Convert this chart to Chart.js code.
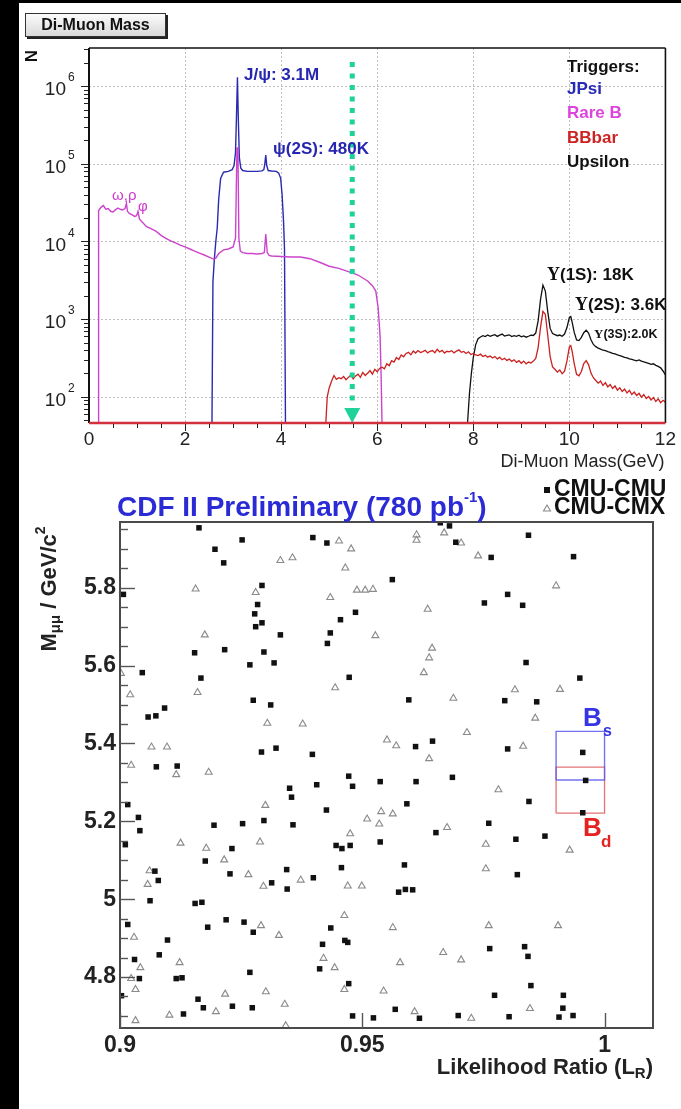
<!DOCTYPE html>
<html>
<head>
<meta charset="utf-8">
<title>Di-Muon Mass / CDF II Bs→μμ search</title>
<script src="https://cdn.jsdelivr.net/npm/chart.js@4.4.1/dist/chart.umd.min.js"></script>
<style>
  html, body { margin: 0; padding: 0; background: #000; width: 681px; height: 1109px; overflow: hidden; }
  #cTop { position: absolute; left: 19px; top: 3px; background: #fff; }
  #cBot { position: absolute; left: 19px; top: 476px; background: #fff; }
  #box {
    position: absolute; left: 25px; top: 13px; width: 139px; height: 22px;
    border: 1px solid #333; box-shadow: 2px 2px 0 #222;
    background: linear-gradient(#fbfbfb, #d9d9d9);
    font: bold 16px 'Liberation Sans', Arial, Helvetica, sans-serif;
    color: #111; text-align: center; line-height: 22px;
  }
</style>
</head>
<body>
<canvas id="cTop" width="662" height="473"></canvas>
<canvas id="cBot" width="662" height="633"></canvas>
<div id="box">Di-Muon Mass</div>
<script>
const FONT = "'Liberation Sans', Arial, Helvetica, sans-serif";

// ---------- Di-muon mass spectra (GeV, events per bin) ----------
const massTicks = [0, 2, 4, 6, 8, 10, 12];
const countTicks = [1e2, 1e3, 1e4, 1e5, 1e6];

// JPsi trigger
const jpsiMass = [0, 2.56, 2.58, 2.61, 2.64, 2.67, 2.70, 2.74, 2.80, 2.90,
  2.98, 3.02, 3.05, 3.07, 3.09, 3.11, 3.13, 3.16, 3.20, 3.30,
  3.40, 3.50, 3.60, 3.64, 3.66, 3.68, 3.70, 3.73, 3.80, 3.90,
  3.95, 3.99, 4.02, 4.05, 4.07, 4.09, 12];
const jpsiCount = [46, 46, 3000, 6000, 10000, 15000, 35000, 65000, 78000, 80000,
  84000, 95000, 140000, 400000, 1300000, 350000, 120000, 88000, 82000, 80000,
  80000, 80000, 81000, 84000, 100000, 130000, 95000, 82000, 81000, 80000,
  76000, 65000, 40000, 18000, 8000, 46, 46];

// Rare B trigger
const rareMass = [0, 0.19, 0.2, 0.25, 0.3, 0.35, 0.4, 0.45, 0.5, 0.55,
  0.6, 0.65, 0.7, 0.75, 0.78, 0.8, 0.84, 0.9, 0.95, 0.99,
  1.02, 1.05, 1.1, 1.2, 1.3, 1.4, 1.5, 1.6, 1.7, 1.8,
  1.9, 2.0, 2.1, 2.2, 2.3, 2.4, 2.5, 2.6, 2.64, 2.7,
  2.8, 2.9, 3.0, 3.05, 3.08, 3.1, 3.12, 3.15, 3.2, 3.3,
  3.4, 3.5, 3.6, 3.65, 3.68, 3.71, 3.75, 3.8, 3.9, 4.0,
  4.2, 4.4, 4.6, 4.8, 5.0, 5.2, 5.4, 5.6, 5.8, 5.9,
  5.97, 6.02, 6.06, 6.08, 6.1, 12];
const rareCount = [46, 46, 25000, 27500, 29000, 26000, 26500, 24500, 24000, 25500,
  27000, 26000, 25500, 26500, 31000, 24500, 23000, 22000, 21000, 21500,
  24500, 19500, 18000, 15500, 14500, 13500, 12000, 11000, 10200, 9600,
  9000, 8500, 8000, 7500, 7100, 6700, 6300, 5900, 6100, 7000,
  7800, 8000, 8500, 11000, 160000, 160000, 11000, 7500, 7200, 7000,
  7000, 6900, 7000, 7200, 12500, 7200, 6600, 6500, 6450, 6400,
  6300, 6300, 6000, 5400, 4800, 4500, 4100, 3700, 3100, 2700,
  2300, 1400, 600, 200, 46, 46];

// BBbar trigger
const bbMass = [0, 4.93, 4.96,
  5.0, 5.05, 5.1, 5.15, 5.2, 5.25, 5.3, 5.35, 5.4, 5.45, 5.5, 5.55, 5.6, 5.65, 5.7, 5.75, 5.8, 5.85, 5.9, 5.95,
  6.0, 6.05, 6.1, 6.15, 6.2, 6.25, 6.3, 6.35, 6.4, 6.45, 6.5, 6.55, 6.6, 6.65, 6.7, 6.75, 6.8, 6.85, 6.9, 6.95,
  7.0, 7.05, 7.1, 7.15, 7.2, 7.25, 7.3, 7.35, 7.4, 7.45, 7.5, 7.55, 7.6, 7.65, 7.7, 7.75, 7.8, 7.85, 7.9, 7.95,
  8.0, 8.05, 8.1, 8.15, 8.2, 8.25, 8.3, 8.35, 8.4, 8.45, 8.5, 8.55, 8.6, 8.65, 8.7, 8.75, 8.8, 8.85, 8.9, 8.95,
  9.0, 9.05, 9.1, 9.15, 9.2, 9.25, 9.3, 9.35, 9.4, 9.45, 9.5, 9.55, 9.6, 9.65, 9.7, 9.75, 9.8, 9.85, 9.9, 9.95,
  10.0, 10.03, 10.06,
  10.1, 10.15, 10.2, 10.25, 10.3, 10.35, 10.4, 10.45, 10.5, 10.55, 10.6, 10.65, 10.7, 10.75, 10.8, 10.85, 10.9, 10.95,
  11.0, 11.05, 11.1, 11.15, 11.2, 11.25, 11.3, 11.35, 11.4, 11.45, 11.5, 11.55, 11.6, 11.65, 11.7, 11.75, 11.8, 11.85,
  11.9, 11.95, 12.0];
const bbCount = [46, 46, 100,
  130, 160, 188, 168, 176, 171, 183, 166, 178, 191, 170, 186, 196, 178, 206, 188, 201, 218, 196, 226,
  210, 232, 241, 230, 266, 252, 292, 280, 320, 303, 346, 328, 362, 374, 348, 388, 366, 394, 372, 382,
  398, 368, 386, 394, 370, 410, 378, 396, 366, 386, 380, 392, 368, 388, 402, 374, 384, 362, 380, 350,
  362, 346, 340, 354, 330, 342, 324, 336, 316, 330, 308, 322, 300, 314, 294, 306, 286, 300, 278, 292,
  270, 288, 266, 280, 272, 288, 312, 430, 790, 1260, 1150, 620, 330, 242, 226, 208, 222, 198, 214, 290,
  440, 455, 380,
  270, 195, 186, 212, 268, 292, 258, 202, 176, 162, 150, 160, 140, 152, 134, 144, 128, 138,
  122, 131, 117, 126, 112, 121, 107, 115, 104, 111, 99, 107, 95, 101, 91, 98, 87, 94,
  84, 90, 85];

// Upsilon trigger
const upsMass = [7.88, 7.92, 7.96,
  8.0, 8.05, 8.1, 8.15, 8.2, 8.25, 8.3, 8.35, 8.4, 8.45, 8.5, 8.55, 8.6, 8.65, 8.7, 8.75, 8.8, 8.85, 8.9, 8.95,
  9.0, 9.05, 9.1, 9.15, 9.2, 9.25, 9.3, 9.35, 9.4, 9.45, 9.5, 9.55, 9.6, 9.65, 9.7, 9.75, 9.8, 9.85, 9.9, 9.95,
  10.0, 10.03, 10.06,
  10.1, 10.15, 10.2, 10.25, 10.3, 10.35, 10.4, 10.45, 10.5, 10.55, 10.6, 10.65, 10.7, 10.75, 10.8, 10.85, 10.9, 10.95,
  11.0, 11.05, 11.1, 11.15, 11.2, 11.25, 11.3, 11.35, 11.4, 11.45, 11.5, 11.55, 11.6, 11.65, 11.7, 11.75, 11.8, 11.85,
  11.9, 11.95, 12.0];
const upsCount = [46, 110, 200,
  320, 470, 560, 590, 612, 596, 626, 602, 618, 632, 600, 622, 642, 606, 618, 628, 596, 612, 602, 622,
  592, 608, 586, 602, 622, 616, 662, 950, 1800, 2750, 2300, 1250, 760, 652, 632, 612, 624, 602, 642, 780,
  1050, 1080, 900,
  680, 540, 530, 582, 668, 720, 662, 542, 472, 442, 424, 412, 398, 392, 382, 374, 362, 356,
  346, 340, 332, 322, 318, 308, 304, 296, 290, 298, 288, 282, 276, 270, 262, 266, 254, 246,
  236, 215, 192];

// B mass marker on the spectrum
const arrowMass = 5.48;
const arrowTopCount = 2.05e6;

// ---------- CDF II candidates: likelihood ratio vs di-muon mass ----------
const lrTicks = [0.9, 0.95, 1];
const mTicks = [4.8, 5.0, 5.2, 5.4, 5.6, 5.8];

const cmuLR = [
  0.9163, 0.9196, 0.9214, 0.9252, 0.9398, 0.9427, 0.9293, 0.9284, 0.9278, 0.9280,
  0.9293, 0.9331, 0.9455, 0.9486, 0.9434, 0.9428, 0.9007, 0.9154, 0.9216, 0.9297,
  0.9268, 0.9318, 0.9046, 0.9167, 0.9473, 0.9275, 0.9311, 0.9058, 0.9074, 0.9092,
  0.9292, 0.9322, 0.9397, 0.9075, 0.9118, 0.9472,
  0.9661, 0.9680, 0.9693, 0.9766, 0.9843, 0.9936, 0.9562, 0.9800, 0.9752, 0.9831,
  0.9838, 0.9949, 0.9596, 0.9794, 0.9860, 0.9645, 0.9610, 0.9800, 0.9955, 0.9537,
  0.9611, 0.9686, 0.9961,
  0.9350, 0.9406, 0.9480, 0.9354, 0.9016, 0.9426, 0.9038, 0.9041, 0.9194, 0.9253,
  0.9297, 0.9357, 0.9011, 0.9231, 0.9176, 0.9446, 0.9458, 0.9475, 0.9457, 0.9072,
  0.9079, 0.9227, 0.9313, 0.9344, 0.9345, 0.9399, 0.9062, 0.9155, 0.9169, 0.9016,
  0.9219, 0.9256, 0.9181, 0.9275, 0.9435, 0.9098, 0.9418, 0.9464, 0.9470, 0.9081,
  0.9030, 0.9412, 0.9268, 0.9040, 0.9116, 0.9128, 0.9472, 0.9003, 0.9161, 0.9172,
  0.9232, 0.9273, 0.9131, 0.9480, 0.9523,
  0.9844, 0.9592, 0.9761, 0.9652, 0.9537, 0.9817, 0.9877, 0.9955, 0.9587, 0.9820,
  0.9575, 0.9589, 0.9604, 0.9763, 0.9835, 0.9842, 0.9848, 0.9773, 0.9915, 0.9914,
  0.9906, 0.9935, 0.9568, 0.9618, 0.9698, 0.9803];
const cmuM = [
  5.954, 5.899, 5.864, 5.923, 5.929, 5.915, 5.806, 5.757, 5.733, 5.700,
  5.710, 5.679, 5.718, 5.737, 5.684, 5.657, 5.783, 5.633, 5.641, 5.635,
  5.602, 5.607, 5.582, 5.568, 5.570, 5.511, 5.499, 5.468, 5.471, 5.491,
  5.378, 5.388, 5.372, 5.340, 5.342, 5.316,
  5.967, 5.959, 5.917, 5.878, 5.935, 5.880, 5.821, 5.783, 5.761, 5.755,
  5.608, 5.568, 5.512, 5.510, 5.507, 5.406, 5.392, 5.386, 5.377, 5.302,
  5.302, 5.313, 5.305,
  5.285, 5.294, 5.290, 5.262, 5.243, 5.229, 5.210, 5.176, 5.190, 5.194,
  5.202, 5.191, 5.140, 5.130, 5.098, 5.138, 5.130, 5.138, 5.081, 5.072,
  5.048, 5.065, 5.042, 5.076, 5.026, 5.055, 4.996, 4.989, 4.992, 4.935,
  4.947, 4.941, 4.928, 4.915, 4.926, 4.895, 4.884, 4.894, 4.889, 4.857,
  4.845, 4.821, 4.812, 4.796, 4.796, 4.798, 4.783, 4.752, 4.743, 4.721,
  4.725, 4.721, 4.705, 4.700, 4.695,
  5.251, 5.245, 5.195, 5.171, 5.147, 5.154, 5.162, 5.222, 5.088, 5.063,
  5.018, 5.025, 5.024, 4.873, 4.878, 4.853, 4.778, 4.753, 4.753, 4.720,
  4.697, 4.701, 4.717, 4.694, 4.701, 4.698];

const cmxLR = [
  0.9452, 0.9477, 0.9331, 0.9356, 0.9465, 0.9156, 0.9280, 0.9434, 0.9489, 0.9506,
  0.9522, 0.9175, 0.9527, 0.9002, 0.9021, 0.9160, 0.9444, 0.9304, 0.9377, 0.9065,
  0.9097, 0.9023, 0.9116, 0.9183,
  0.9612, 0.9612, 0.9669, 0.9704, 0.9739, 0.9900, 0.9635, 0.9644, 0.9638, 0.9627,
  0.9815, 0.9908, 0.9688, 0.9857, 0.9716, 0.9551, 0.9570, 0.9832, 0.9638,
  0.9300, 0.9510, 0.9125, 0.9178, 0.9289, 0.9475, 0.9215, 0.9061, 0.9265, 0.9057,
  0.9296, 0.9373, 0.9470, 0.9499, 0.9463, 0.9291, 0.9328, 0.9029, 0.9420, 0.9443,
  0.9123, 0.9042, 0.9023, 0.9032, 0.9463, 0.9217, 0.9301, 0.9340, 0.9102, 0.9198,
  0.9032, 0.9342,
  0.9781, 0.9539, 0.9563, 0.9535, 0.9675, 0.9755, 0.9928, 0.9755, 0.9563, 0.9761,
  0.9904, 0.9667, 0.9704, 0.9578, 0.9544, 0.9846, 0.9608, 0.9725];
const cmxM = [
  5.920, 5.900, 5.870, 5.877, 5.851, 5.797, 5.788, 5.775, 5.794, 5.794,
  5.796, 5.679, 5.677, 5.580, 5.525, 5.531, 5.543, 5.452, 5.450, 5.391,
  5.391, 5.344, 5.320, 5.326,
  5.936, 5.922, 5.941, 5.915, 5.882, 5.805, 5.745, 5.645, 5.620, 5.582,
  5.538, 5.539, 5.516, 5.465, 5.428, 5.409, 5.394, 5.393, 5.361,
  5.241, 5.206, 5.144, 5.131, 5.147, 5.168, 5.101, 5.073, 5.063, 5.038,
  5.033, 5.049, 5.034, 5.034, 4.958, 4.932, 4.907, 4.902, 4.848, 4.824,
  4.837, 4.824, 4.796, 4.768, 4.768, 4.756, 4.762, 4.730, 4.702, 4.711,
  4.688, 4.675,
  5.281, 5.225, 5.219, 5.193, 5.184, 5.141, 5.126, 5.078, 4.927, 4.932,
  4.932, 4.863, 4.844, 4.837, 4.764, 4.719, 4.711, 4.694];

// Signal windows (likelihood ratio range, mass range)
const bsLR = [0.99, 1.0];
const bsMass = [5.306, 5.431];
const bdLR = [0.99, 1.0];
const bdMass = [5.221, 5.339];

function pts(xs, ys) { return xs.map((v, i) => ({ x: v, y: ys[i] })); }
function windowPath(lr, m) {
  return [{ x: lr[0], y: m[0] }, { x: lr[1], y: m[0] }, { x: lr[1], y: m[1] },
          { x: lr[0], y: m[1] }, { x: lr[0], y: m[0] }];
}
function seg(ctx, x1, y1, x2, y2) { ctx.beginPath(); ctx.moveTo(x1, y1); ctx.lineTo(x2, y2); ctx.stroke(); }

// Draws a run of [text, font, dy] pieces starting at x
function runWidth(ctx, parts) {
  let w = 0;
  for (const p of parts) { ctx.font = p[1]; w += ctx.measureText(p[0]).width; }
  return w;
}
function drawRun(ctx, parts, x, y, color) {
  ctx.fillStyle = color; ctx.textAlign = 'left'; ctx.textBaseline = 'middle';
  for (const p of parts) {
    ctx.font = p[1];
    ctx.fillText(p[0], x, y + (p[2] || 0));
    x += ctx.measureText(p[0]).width;
  }
}

// ---------- top panel decorations ----------
const spectrumDecor = {
  id: 'spectrumDecor',
  beforeDatasetsDraw(chart) {
    const { ctx, chartArea: a, scales: { x, y } } = chart;
    ctx.save();
    ctx.strokeStyle = '#bfbfbf'; ctx.lineWidth = 1; ctx.setLineDash([2, 2]);
    for (const m of massTicks.slice(1, -1)) {
      const px = Math.round(x.getPixelForValue(m)) + 0.5;
      seg(ctx, px, a.top, px, a.bottom);
    }
    for (const c of countTicks) {
      const py = Math.round(y.getPixelForValue(c)) + 0.5;
      seg(ctx, a.left, py, a.right, py);
    }
    ctx.restore();
  },
  afterDatasetsDraw(chart) {
    const { ctx, chartArea: a, scales: { x, y } } = chart;
    ctx.save();
    // green dotted arrow at the B mass
    const ax = x.getPixelForValue(arrowMass);
    const aTop = y.getPixelForValue(arrowTopCount);
    const green = '#1fd19b';
    ctx.strokeStyle = green; ctx.lineWidth = 5; ctx.setLineDash([5, 6.5]);
    seg(ctx, ax, aTop, ax, a.bottom - 17);
    ctx.setLineDash([]);
    ctx.fillStyle = green;
    ctx.beginPath();
    ctx.moveTo(ax - 8, a.bottom - 15); ctx.lineTo(ax + 8, a.bottom - 15); ctx.lineTo(ax, a.bottom);
    ctx.closePath(); ctx.fill();

    // frame
    ctx.strokeStyle = '#111'; ctx.lineWidth = 1.6;
    seg(ctx, a.left, a.top, a.right, a.top);
    seg(ctx, a.right, a.top, a.right, a.bottom);
    ctx.lineWidth = 2;
    seg(ctx, a.left, a.bottom, a.left, a.top);
    ctx.strokeStyle = '#d2303c'; ctx.lineWidth = 2.6;
    seg(ctx, a.left, a.bottom, a.right, a.bottom);

    // tick marks (outside)
    ctx.strokeStyle = '#222'; ctx.lineWidth = 1;
    for (let k = 1; k < 24; k++) {
      const m = k * 0.5;
      const px = Math.round(x.getPixelForValue(m)) + 0.5;
      seg(ctx, px, a.bottom + 1, px, a.bottom + (k % 4 === 0 ? 8 : 5));
    }
    for (let d = 1; d <= 6; d++) {
      for (let k = 1; k <= 9; k++) {
        const v = k * Math.pow(10, d);
        if (v < y.min || v > y.max) continue;
        const py = Math.round(y.getPixelForValue(v)) + 0.5;
        seg(ctx, a.left - (k === 1 ? 8 : 5), py, a.left - 1, py);
      }
    }

    // log axis labels 10^n
    ctx.fillStyle = '#222'; ctx.textBaseline = 'middle';
    for (const c of countTicks) {
      const py = y.getPixelForValue(c);
      ctx.font = '19px ' + FONT; ctx.textAlign = 'right';
      ctx.fillText('10', a.left - 23, py + 4);
      ctx.font = '12px ' + FONT; ctx.textAlign = 'left';
      ctx.fillText(String(Math.round(Math.log10(c))), a.left - 21, py - 8);
    }

    // axis titles
    ctx.save();
    ctx.translate(13.5, 53); ctx.rotate(-Math.PI / 2);
    ctx.font = 'bold 17px ' + FONT; ctx.textAlign = 'center'; ctx.textBaseline = 'middle'; ctx.fillStyle = '#111';
    ctx.fillText('N', 0, 0);
    ctx.restore();
    ctx.font = '18px ' + FONT; ctx.textAlign = 'right'; ctx.textBaseline = 'middle'; ctx.fillStyle = '#222';
    ctx.fillText('Di-Muon Mass(GeV)', a.right - 1, 459);

    // peak annotations
    const B17 = 'bold 17px ' + FONT;
    const SERIF17 = 'bold 18px "Liberation Serif", "DejaVu Serif", serif';
    drawRun(ctx, [['J/ψ: 3.1M', B17]], 225, 72, '#2626b0');
    drawRun(ctx, [['ψ(2S): 480K', B17]], 254, 146, '#2626b0');
    drawRun(ctx, [['ω,ρ', '15px ' + FONT]], 93, 193, '#cc3acc');
    drawRun(ctx, [['φ', '15px ' + FONT]], 119, 204, '#cc3acc');
    drawRun(ctx, [['Υ', SERIF17], ['(1S): 18K', B17]], 528, 272, '#111');
    drawRun(ctx, [['Υ', SERIF17], ['(2S): 3.6K', B17]], 556, 302, '#111');
    drawRun(ctx, [['Υ', 'bold 13px "Liberation Serif", serif'], ['(3S):2.0K', 'bold 12.5px ' + FONT]], 575, 332, '#111');

    // trigger legend
    const legendRows = [['Triggers:', '#111'], ['JPsi', '#2a2ab8'], ['Rare B', '#dd44dd'], ['BBbar', '#cc2222'], ['Upsilon', '#111']];
    const rowY = [64, 86, 110, 135, 159];
    legendRows.forEach((r, i) => drawRun(ctx, [[r[0], B17]], 548, rowY[i], r[1]));
    ctx.restore();
  }
};

new Chart(document.getElementById('cTop'), {
  type: 'scatter',
  data: {
    datasets: [
      { label: 'BBbar', data: pts(bbMass, bbCount), borderColor: '#cc1f1f', borderWidth: 1.3 },
      { label: 'Rare B', data: pts(rareMass, rareCount), borderColor: '#cc44cc', borderWidth: 1.4 },
      { label: 'JPsi', data: pts(jpsiMass, jpsiCount), borderColor: '#2a2ab0', borderWidth: 1.4 },
      { label: 'Upsilon', data: pts(upsMass, upsCount), borderColor: '#111111', borderWidth: 1.3 }
    ].map(d => Object.assign(d, { showLine: true, pointRadius: 0, tension: 0, fill: false }))
  },
  options: {
    responsive: false, animation: false, events: [],
    layout: { padding: { top: 45, right: 12, left: 0, bottom: 0 } },
    plugins: { legend: { display: false }, tooltip: { enabled: false } },
    scales: {
      x: {
        type: 'linear', min: 0, max: 12,
        grid: { display: false, drawTicks: false }, border: { display: false },
        ticks: { stepSize: 2, maxRotation: 0, autoSkip: false, padding: 5, color: '#222', font: { family: FONT, size: 19 } },
        afterBuildTicks(s) { s.ticks = massTicks.map(v => ({ value: v })); },
        afterFit(s) { s.height = 53; }
      },
      y: {
        type: 'logarithmic', min: 46, max: 3.1e6,
        grid: { display: false, drawTicks: false }, border: { display: false },
        ticks: { display: false },
        afterFit(s) { s.width = 70; }
      }
    }
  },
  plugins: [spectrumDecor]
});

// ---------- bottom panel decorations ----------
const scatterDecor = {
  id: 'scatterDecor',
  afterDatasetsDraw(chart) {
    const { ctx, chartArea: a, scales: { x, y } } = chart;
    ctx.save();
    // frame
    ctx.strokeStyle = '#4a4a4a'; ctx.lineWidth = 2;
    ctx.strokeRect(a.left, a.top, a.right - a.left, a.bottom - a.top);
    // ticks (inside)
    ctx.lineWidth = 1.4; ctx.strokeStyle = '#555';
    for (const v of lrTicks) {
      const px = Math.round(x.getPixelForValue(v)) + 0.5;
      seg(ctx, px, a.bottom, px, a.bottom - 15);
    }
    for (let k = 94; k <= 119; k++) {
      const v = k * 0.05;
      const py = Math.round(y.getPixelForValue(v)) + 0.5;
      const major = (k % 4 === 0);
      seg(ctx, a.left, py, a.left + (major ? 15 : 8), py);
    }

    // title
    drawRun(ctx, [['CDF II Preliminary (780 pb', 'bold 28px ' + FONT], ['-1', 'bold 15px ' + FONT, -10], [')', 'bold 28px ' + FONT]], 98, 32, '#2b2bd6');

    // legend
    ctx.fillStyle = '#111';
    ctx.fillRect(525, 11, 6, 6);
    ctx.strokeStyle = '#8a8a8a'; ctx.lineWidth = 1.1;
    ctx.beginPath(); ctx.moveTo(528, 29); ctx.lineTo(531.5, 35); ctx.lineTo(524.5, 35); ctx.closePath(); ctx.stroke();
    drawRun(ctx, [['CMU-CMU', 'bold 23px ' + FONT]], 535, 14, '#111');
    drawRun(ctx, [['CMU-CMX', 'bold 23px ' + FONT]], 535, 32, '#111');

    // window labels
    drawRun(ctx, [['B', 'bold 26px ' + FONT]], 564, 243, '#3535e6');
    drawRun(ctx, [['s', 'bold 16px ' + FONT]], 584, 256, '#3535e6');
    drawRun(ctx, [['B', 'bold 26px ' + FONT]], 564, 353, '#e52222');
    drawRun(ctx, [['d', 'bold 17px ' + FONT]], 582, 366, '#e52222');

    // axis titles
    const xt = [['Likelihood Ratio (L', 'bold 22px ' + FONT], ['R', 'bold 15px ' + FONT, 6], [')', 'bold 22px ' + FONT]];
    drawRun(ctx, xt, a.right - runWidth(ctx, xt), 592, '#222');
    const yt = [['M', 'bold 22px ' + FONT], ['μμ', 'bold 15px ' + FONT, 6], [' / GeV/c', 'bold 22px ' + FONT], ['2', 'bold 14px ' + FONT, -9]];
    ctx.save();
    ctx.translate(31, 113); ctx.rotate(-Math.PI / 2);
    drawRun(ctx, yt, -runWidth(ctx, yt) / 2, 0, '#222');
    ctx.restore();
    ctx.restore();
  }
};

new Chart(document.getElementById('cBot'), {
  type: 'scatter',
  data: {
    datasets: [
      { label: 'CMU-CMU', data: pts(cmuLR, cmuM), pointStyle: 'rect', pointRadius: 3.9,
        backgroundColor: '#111', borderColor: '#111', borderWidth: 0 },
      { label: 'CMU-CMX', data: pts(cmxLR, cmxM), pointStyle: 'triangle', pointRadius: 4,
        backgroundColor: 'rgba(255,255,255,0)', borderColor: '#8a8a8a', borderWidth: 1.1 },
      { label: 'Bs window', data: windowPath(bsLR, bsMass), showLine: true, pointRadius: 0,
        borderColor: 'rgba(90,90,240,0.85)', borderWidth: 1.4, fill: false },
      { label: 'Bd window', data: windowPath(bdLR, bdMass), showLine: true, pointRadius: 0,
        borderColor: 'rgba(225,90,90,0.85)', borderWidth: 1.3, fill: false }
    ]
  },
  options: {
    responsive: false, animation: false, events: [],
    layout: { padding: { top: 46, right: 28, left: 0, bottom: 0 } },
    plugins: { legend: { display: false }, tooltip: { enabled: false } },
    scales: {
      x: {
        type: 'linear', min: 0.9, max: 1.01,
        grid: { display: false, drawTicks: false }, border: { display: false },
        ticks: { autoSkip: false, maxRotation: 0, padding: 4, color: '#222',
                 font: { family: FONT, size: 23, weight: 'bold' }, callback: v => String(v) },
        afterBuildTicks(s) { s.ticks = lrTicks.map(v => ({ value: v })); },
        afterFit(s) { s.height = 81; }
      },
      y: {
        type: 'linear', min: 4.669, max: 5.969,
        grid: { display: false, drawTicks: false }, border: { display: false },
        ticks: { autoSkip: false, padding: 4, color: '#222',
                 font: { family: FONT, size: 23, weight: 'bold' }, callback: v => String(v) },
        afterBuildTicks(s) { s.ticks = mTicks.map(v => ({ value: v })); },
        afterFit(s) { s.width = 101; }
      }
    }
  },
  plugins: [scatterDecor]
});
</script>
</body>
</html>
